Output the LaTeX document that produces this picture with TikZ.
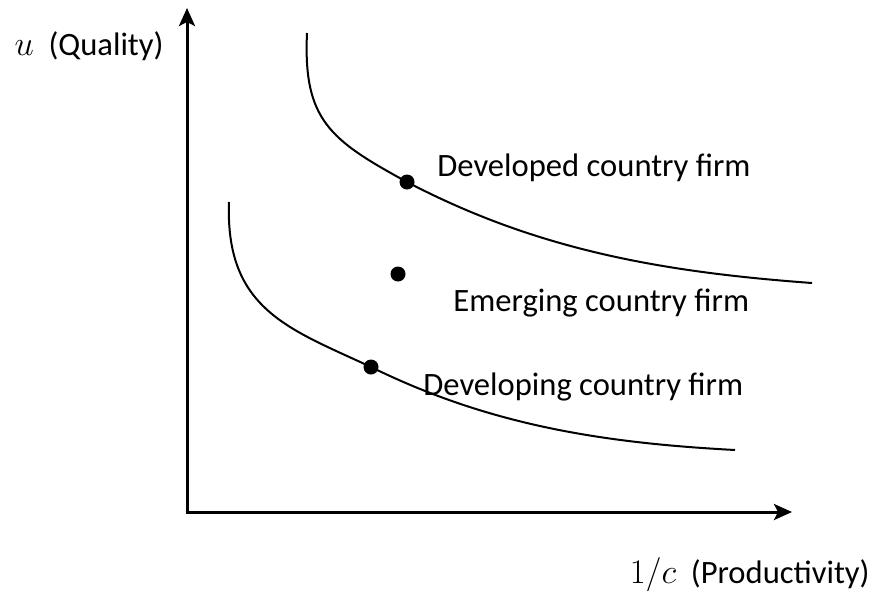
\documentclass[tikz,border=0pt]{standalone}
\usepackage{fontspec}
\setmainfont{Carlito}
\usetikzlibrary{arrows.meta}
\begin{document}
\begin{tikzpicture}[x=0.5pt,y=-0.5pt,
  axis/.style={line width=1.5pt,-{Stealth[length=9pt,width=8pt,inset=2pt]}},
  curve/.style={line width=1pt},
  firm/.style={circle,fill=black,inner sep=0pt,minimum size=7.5pt},
  lbl/.style={inner sep=0pt,font=\fontsize{16.3}{19}\selectfont}]
\useasboundingbox (0,0) rectangle (878,590);
% axes
\coordinate (O) at (187,512);
\coordinate (ytop) at (187,8);
\coordinate (xend) at (792,512);
\draw[axis] (O) -- (ytop);
\draw[axis] ([xshift=-0.75pt]O) -- (xend);
% iso-curves
\coordinate (hiA) at (307,33);
\coordinate (hiB) at (812,283);
\coordinate (loA) at (229,202);
\coordinate (loB) at (735,450);
% firms
\node[firm] (developed) at (407,182) {};
\node[firm] (emerging) at (398,274) {};
\node[firm] (developing) at (371,367) {};
\draw[curve] (hiA) .. controls (303,120) and (330,140) .. (developed.center)
  .. controls (537,250) and (662,272) .. (hiB);
\draw[curve] (loA) .. controls (225,310) and (290,329) .. (developing.center)
  .. controls (491,426) and (605,443) .. (loB);
% labels
\node[lbl,anchor=base east] (ulabel) at (164,55) {$u$\ \ (Quality)};
\node[lbl,anchor=base east] (clabel) at (870,583) {$1/c$\ \ (Productivity)};
\node[lbl,anchor=base west] (devd) at (437,176) {Developed country firm};
\node[lbl,anchor=base west] (emer) at (453,311) {Emerging country firm};
\node[lbl,anchor=base west] (devg) at (423,395) {Developing country firm};
\end{tikzpicture}
\end{document}
